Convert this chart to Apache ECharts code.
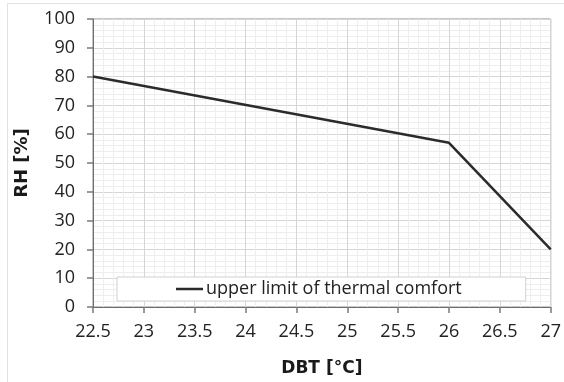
<!DOCTYPE html>
<html lang="en">
<head>
    <meta charset="UTF-8">
    <title>RH vs DBT</title>
    <script src="https://cdn.jsdelivr.net/npm/echarts@6/dist/echarts.min.js"></script>
    <style>
        * { margin: 0; padding: 0; }
        html, body { width: 100%; height: 100%; background: #fff; }
    </style>
</head>
<body>
    <div id="main" style="width: 564px;height:382px;"></div>
<script>
    // upper comfort limit
    var dbt = [22.5, 26, 27];
    var rh = [80, 57, 20];
    var seriesName = 'upper limit of thermal comfort';

    var points = [];
    for (var i = 0; i < dbt.length; i++) {
        points.push([dbt[i], rh[i]]);
    }

    var font = '"Open Sans", "Noto Sans", sans-serif';
    var boldFont = '"DejaVu Sans", Verdana, sans-serif';
    var tickGray = '#7a7a7a';
    var myChart = echarts.init(document.getElementById('main'));
    myChart.setOption({
        animation: false,
        grid: {
            left: 93,
            right: 13,
            top: 19,
            bottom: 68,
            show: true,
            borderColor: '#8c8c8c',
            borderWidth: 1
        },
        graphic: [
            { type: 'line', shape: { x1: 7.5, y1: 3.5, x2: 564, y2: 3.5 }, style: { stroke: '#e2e2e2', lineWidth: 1 } },
            { type: 'line', shape: { x1: 7.5, y1: 3.5, x2: 7.5, y2: 382 }, style: { stroke: '#e2e2e2', lineWidth: 1 } }
        ],
        legend: {
            data: [{ name: seriesName, icon: 'path://M0,0L27,0L27,2.5L0,2.5Z' }],
            left: 117,
            top: 277,
            padding: [3, 64, 3, 59],
            itemWidth: 27,
            itemHeight: 3,
            itemGap: 0,
            backgroundColor: '#fff',
            borderColor: '#d0d0d0',
            borderWidth: 1,
            textStyle: { fontFamily: font, fontSize: 18, color: '#222', padding: [0, 0, 0, -2] }
        },
        xAxis: {
            type: 'value',
            min: 22.5,
            max: 27,
            interval: 0.5,
            name: 'DBT [°C]',
            nameLocation: 'middle',
            nameGap: 53,
            nameTextStyle: { fontFamily: boldFont, fontSize: 17, fontWeight: 'bold', color: '#1a1a1a' },
            axisLine: { show: true, onZero: false, lineStyle: { color: '#6e6e6e', width: 1 } },
            axisTick: { show: true, length: 6, inside: false, lineStyle: { color: tickGray, width: 1.5 } },
            axisLabel: { fontFamily: font, fontSize: 18, color: '#222', margin: 16 },
            splitLine: { show: true, lineStyle: { color: '#d6d6d6', width: 1 } },
            minorTick: { show: false, splitNumber: 5 },
            minorSplitLine: { show: true, lineStyle: { color: '#eeeeee', width: 1 } }
        },
        yAxis: {
            type: 'value',
            min: 0,
            max: 100,
            interval: 10,
            name: 'RH [%]',
            nameLocation: 'middle',
            nameGap: 62,
            nameTextStyle: { fontFamily: boldFont, fontSize: 18, fontWeight: 'bold', color: '#1a1a1a' },
            axisLine: { show: true, onZero: false, lineStyle: { color: '#6e6e6e', width: 1 } },
            axisTick: { show: true, length: 6, inside: false, lineStyle: { color: tickGray, width: 1.5 } },
            axisLabel: { fontFamily: font, fontSize: 18, color: '#222', margin: 18 },
            splitLine: { show: true, lineStyle: { color: '#d6d6d6', width: 1 } },
            minorTick: { show: false, splitNumber: 5 },
            minorSplitLine: { show: true, lineStyle: { color: '#eeeeee', width: 1 } }
        },
        series: [
            {
                name: seriesName,
                type: 'line',
                data: points,
                symbol: 'none',
                lineStyle: { color: '#2b2b2b', width: 2.5 },
                itemStyle: { color: '#2b2b2b' }
            }
        ]
    });
</script>
</body>
</html>
